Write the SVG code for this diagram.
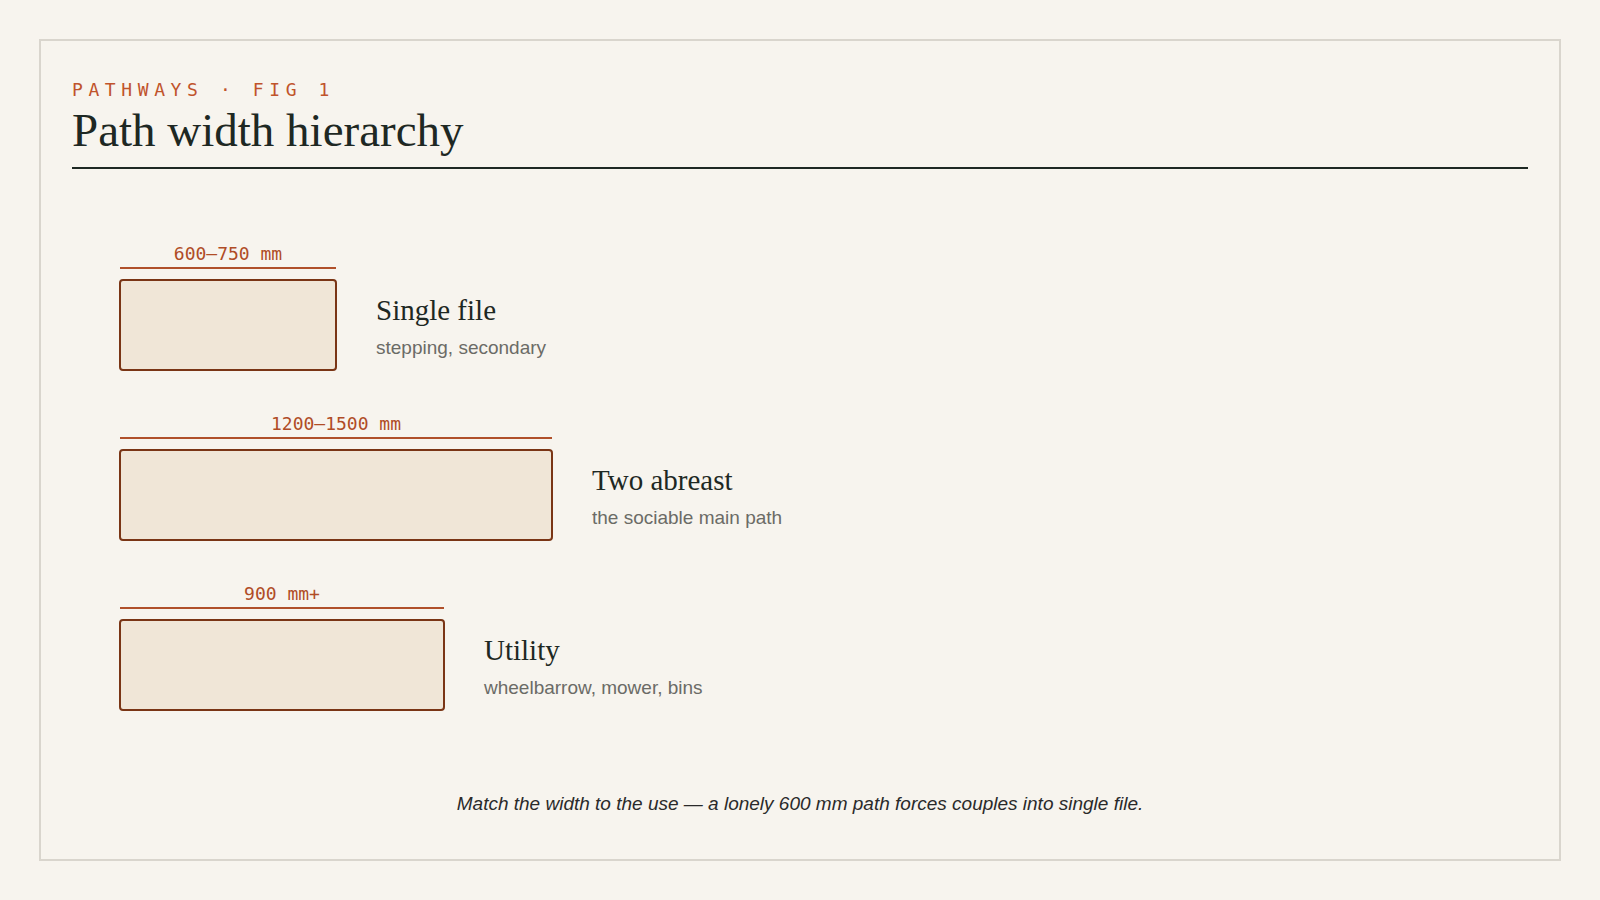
<svg xmlns="http://www.w3.org/2000/svg" width="1600" height="900" viewBox="0 0 1600 900">
<style>
.kicker{font-family:"DejaVu Sans Mono","Liberation Mono",monospace;font-size:18px;fill:#c0532b;letter-spacing:5.6px}
.h1{font-family:"Liberation Serif","DejaVu Serif",serif;font-size:47px;fill:#1e2823}
.dim{font-family:"DejaVu Sans Mono","Liberation Mono",monospace;font-size:18px;fill:#b04c26;text-anchor:middle}
.dimline{stroke:#b0502a;stroke-width:2}
.path{fill:#f0e6d7;stroke:#7a3515;stroke-width:2}
.title{font-family:"Liberation Serif","DejaVu Serif",serif;font-size:29px;fill:#1e2823}
.sub{font-family:"Liberation Sans",Arial,sans-serif;font-size:19px;fill:#6b6b66}
.foot{font-family:"Liberation Sans",Arial,sans-serif;font-size:19px;font-style:italic;fill:#2a2a2a;text-anchor:middle}
</style>
<rect width="1600" height="900" fill="#f7f4ee"/>
<rect x="40" y="40" width="1520" height="820" fill="#f7f4ee" stroke="#d9d5cd" stroke-width="2"/>
<g id="header">
<text class="kicker" x="72" y="96">PATHWAYS · FIG 1</text>
<text class="h1" x="72" y="146">Path width hierarchy</text>
<line x1="72" y1="168" x2="1528" y2="168" stroke="#1e2823" stroke-width="2"/>
</g>
<g id="single-file">
<text class="dim" x="228" y="260">600–750 mm</text>
<line class="dimline" x1="120" y1="268" x2="336" y2="268"/>
<rect class="path" x="120" y="280" width="216" height="90" rx="3"/>
<text class="title" x="376" y="320">Single file</text>
<text class="sub" x="376" y="354">stepping, secondary</text>
</g>
<g id="two-abreast">
<text class="dim" x="336" y="430">1200–1500 mm</text>
<line class="dimline" x1="120" y1="438" x2="552" y2="438"/>
<rect class="path" x="120" y="450" width="432" height="90" rx="3"/>
<text class="title" x="592" y="490">Two abreast</text>
<text class="sub" x="592" y="524">the sociable main path</text>
</g>
<g id="utility">
<text class="dim" x="282" y="600">900 mm+</text>
<line class="dimline" x1="120" y1="608" x2="444" y2="608"/>
<rect class="path" x="120" y="620" width="324" height="90" rx="3"/>
<text class="title" x="484" y="660">Utility</text>
<text class="sub" x="484" y="694">wheelbarrow, mower, bins</text>
</g>
<g id="connectors"></g>
<text class="foot" x="800" y="810">Match the width to the use — a lonely 600 mm path forces couples into single file.</text>
</svg>
